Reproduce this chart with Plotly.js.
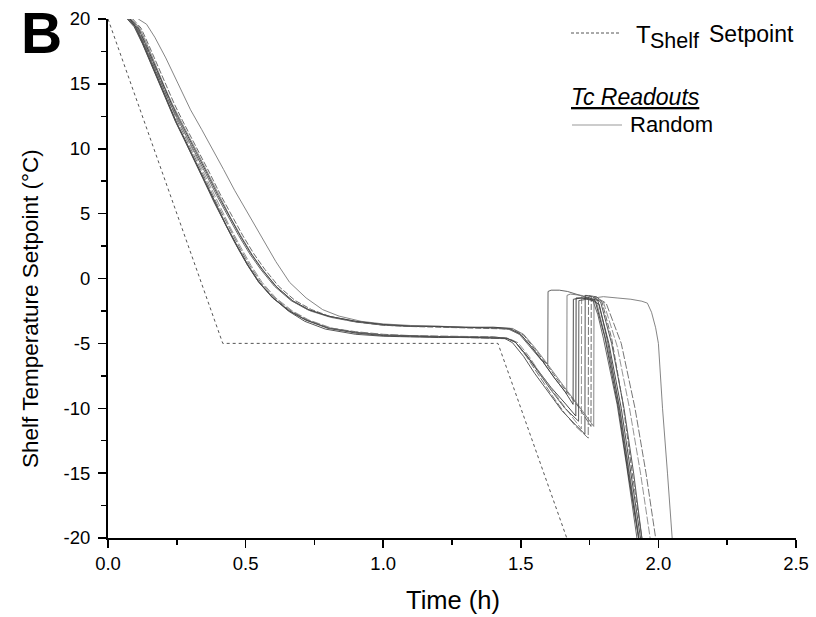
<!DOCTYPE html>
<html>
<head>
<meta charset="utf-8">
<script src="https://cdn.plot.ly/plotly-3.0.1.min.js"></script>
<style>html,body{margin:0;padding:0;background:#fff;}#chart{width:816px;height:617px;}</style>
</head>
<body>
<div id="chart"></div>
<script>
// ---- Shelf setpoint ----
const spTime = [0, 0.417, 1.417, 1.667];
const spTemp = [20, -5, -5, -20];

// ---- Thermocouple readouts (random vials) ----
const tc01Time = [0.078,0.105,0.135,0.165,0.195,0.225,0.255,0.285,0.315,0.355,0.395,0.435,0.475,0.515,0.555,0.605,0.665,0.725,0.80,0.90,1.00,1.10,1.20,1.30,1.40,1.455,1.495,1.535,1.575,1.598,1.599,1.61,1.64,1.67,1.70,1.73,1.762,1.78,1.80,1.85,1.885,1.922];
const tc01Temp = [20,19.3,17.9,16.4,14.9,13.5,12.2,11.0,9.8,8.1,6.4,4.8,3.3,1.9,0.7,-0.6,-1.7,-2.4,-2.9,-3.3,-3.55,-3.65,-3.72,-3.76,-3.8,-3.9,-4.3,-5.3,-6.3,-6.6,-1.0,-0.9,-0.9,-1.0,-1.2,-1.4,-1.7,-2.8,-4.6,-9.7,-14.5,-20];

const tc02Time = [0.085,0.115,0.145,0.175,0.205,0.235,0.265,0.295,0.325,0.365,0.405,0.445,0.485,0.525,0.565,0.615,0.675,0.735,0.81,0.90,1.00,1.10,1.20,1.30,1.40,1.46,1.50,1.54,1.58,1.62,1.667,1.668,1.68,1.72,1.75,1.775,1.81,1.86,1.895,1.93];
const tc02Temp = [20,19.3,17.9,16.3,14.8,13.4,12.1,10.9,9.7,8.0,6.3,4.7,3.2,1.8,0.6,-0.7,-1.8,-2.5,-3.0,-3.35,-3.6,-3.7,-3.68,-3.78,-3.82,-3.9,-4.35,-5.3,-6.4,-7.6,-8.9,-1.3,-1.2,-1.3,-1.5,-1.8,-4.8,-10.0,-15.0,-20];

const tc03Time = [0.075,0.10,0.13,0.16,0.19,0.22,0.25,0.28,0.31,0.35,0.39,0.43,0.47,0.51,0.55,0.60,0.66,0.72,0.80,0.90,1.00,1.10,1.20,1.30,1.40,1.45,1.48,1.52,1.56,1.61,1.66,1.70,1.701,1.72,1.75,1.77,1.805,1.855,1.89,1.928];
const tc03Temp = [20,19.4,18.0,16.5,14.9,13.4,12.0,10.7,9.4,7.6,5.8,4.1,2.5,1.0,-0.3,-1.5,-2.5,-3.2,-3.8,-4.15,-4.35,-4.42,-4.47,-4.5,-4.52,-4.6,-4.9,-5.9,-7.0,-8.4,-9.6,-10.6,-1.5,-1.5,-1.6,-1.7,-4.5,-10,-15,-20];

const tc04Time = [0.082,0.11,0.14,0.17,0.20,0.23,0.26,0.29,0.32,0.36,0.40,0.44,0.48,0.52,0.56,0.61,0.67,0.73,0.81,0.90,1.00,1.10,1.20,1.30,1.40,1.46,1.49,1.53,1.57,1.62,1.67,1.72,1.721,1.74,1.77,1.80,1.85,1.895,1.935,1.97];
const tc04Temp = [20,19.4,18.0,16.5,14.9,13.4,12.0,10.7,9.4,7.6,5.8,4.1,2.5,1.0,-0.3,-1.5,-2.5,-3.2,-3.8,-4.2,-4.4,-4.48,-4.5,-4.55,-4.58,-4.65,-4.95,-6.0,-7.3,-8.8,-10.2,-11.6,-1.4,-1.3,-1.5,-1.8,-5.2,-10,-15,-20];

const tc05Time = [0.07,0.095,0.125,0.155,0.185,0.215,0.245,0.275,0.305,0.345,0.385,0.425,0.465,0.505,0.545,0.595,0.655,0.715,0.79,0.90,1.00,1.10,1.20,1.30,1.40,1.44,1.47,1.51,1.55,1.60,1.65,1.70,1.733,1.734,1.76,1.79,1.83,1.875,1.91,1.94];
const tc05Temp = [20,19.4,18.1,16.6,15.0,13.5,12.1,10.8,9.5,7.7,5.9,4.2,2.6,1.1,-0.2,-1.4,-2.5,-3.3,-3.9,-4.3,-4.45,-4.5,-4.55,-4.52,-4.56,-4.6,-4.95,-6.0,-7.3,-8.8,-10.2,-11.3,-12.0,-1.3,-1.4,-1.8,-5.0,-10,-15,-20];

const tc06Time = [0.08,0.105,0.135,0.165,0.195,0.225,0.255,0.285,0.315,0.355,0.395,0.435,0.475,0.515,0.555,0.605,0.665,0.725,0.80,0.90,1.00,1.10,1.20,1.30,1.40,1.45,1.48,1.52,1.56,1.61,1.66,1.70,1.745,1.746,1.77,1.81,1.865,1.915,1.955,1.99];
const tc06Temp = [20,19.4,18.0,16.5,14.9,13.4,12.0,10.7,9.4,7.6,5.8,4.1,2.5,1.0,-0.3,-1.5,-2.5,-3.2,-3.8,-4.1,-4.3,-4.4,-4.45,-4.48,-4.5,-4.6,-4.9,-6.0,-7.3,-8.9,-10.4,-11.4,-12.3,-1.3,-1.4,-1.9,-5.0,-10,-15,-20];

const tc07Time = [0.11,0.14,0.17,0.21,0.255,0.30,0.34,0.38,0.42,0.46,0.51,0.56,0.61,0.66,0.72,0.78,0.84,0.92,1.00,1.10,1.20,1.30,1.40,1.47,1.51,1.55,1.59,1.63,1.67,1.71,1.74,1.765,1.766,1.80,1.85,1.90,1.94,1.96,1.975,1.99,2.00,2.015,2.033,2.05];
const tc07Temp = [20,19.6,18.6,17.0,15.0,13.0,11.5,10.0,8.4,6.8,5.0,3.2,1.3,-0.3,-1.5,-2.4,-2.9,-3.3,-3.5,-3.62,-3.7,-3.74,-3.78,-3.85,-4.3,-5.3,-6.4,-7.6,-8.7,-9.8,-10.7,-11.4,-1.5,-1.4,-1.5,-1.6,-1.75,-1.9,-2.6,-3.8,-5.0,-10,-15,-20];

const tc08Time = [0.08,0.11,0.14,0.17,0.20,0.23,0.26,0.29,0.32,0.36,0.40,0.44,0.48,0.52,0.56,0.61,0.67,0.73,0.80,0.90,1.00,1.10,1.20,1.30,1.40,1.46,1.50,1.54,1.58,1.62,1.66,1.69,1.691,1.72,1.75,1.78,1.82,1.865,1.90,1.935];
const tc08Temp = [20,19.3,17.9,16.4,14.9,13.5,12.2,11.0,9.8,8.1,6.4,4.8,3.3,1.9,0.7,-0.6,-1.7,-2.4,-2.9,-3.3,-3.55,-3.68,-3.7,-3.78,-3.75,-3.85,-4.3,-5.3,-6.4,-7.6,-8.7,-9.7,-1.6,-1.5,-1.5,-1.7,-5.0,-10,-15,-20];

const tc09Time = [0.09,0.12,0.15,0.18,0.21,0.24,0.27,0.30,0.33,0.37,0.41,0.45,0.49,0.53,0.57,0.62,0.68,0.74,0.81,0.90,1.00,1.10,1.20,1.30,1.40,1.47,1.51,1.55,1.59,1.63,1.67,1.71,1.755,1.756,1.775,1.795,1.83,1.87,1.905,1.94];
const tc09Temp = [20,19.3,17.9,16.4,14.9,13.5,12.2,11.0,9.8,8.1,6.4,4.8,3.3,1.9,0.7,-0.6,-1.7,-2.4,-2.95,-3.35,-3.6,-3.7,-3.74,-3.8,-3.82,-3.9,-4.35,-5.4,-6.5,-7.7,-8.8,-9.9,-11.4,-1.4,-1.4,-1.8,-4.6,-9.5,-15,-20];

const tc10Time = [0.072,0.098,0.128,0.158,0.188,0.218,0.248,0.278,0.308,0.348,0.388,0.428,0.468,0.508,0.548,0.598,0.658,0.718,0.80,0.90,1.00,1.10,1.20,1.30,1.40,1.45,1.48,1.52,1.56,1.61,1.66,1.71,1.711,1.74,1.76,1.785,1.815,1.86,1.893,1.928];
const tc10Temp = [20,19.4,18.0,16.5,14.9,13.4,12.0,10.7,9.4,7.6,5.8,4.1,2.5,1.0,-0.3,-1.5,-2.5,-3.2,-3.85,-4.2,-4.4,-4.45,-4.5,-4.5,-4.55,-4.62,-4.9,-5.9,-7.1,-8.6,-10.0,-11.0,-1.7,-1.6,-1.7,-2.0,-4.8,-10.2,-15,-20];

const xTickVals = [0, 0.5, 1.0, 1.5, 2.0, 2.5];
const xTickText = ['0.0', '0.5', '1.0', '1.5', '2.0', '2.5'];
const yTickVals = [-20, -15, -10, -5, 0, 5, 10, 15, 20];
const yTickText = ['-20', '-15', '-10', '-5', '0', '5', '10', '15', '20'];

const tcSeries = [
  [tc01Time, tc01Temp], [tc02Time, tc02Temp], [tc03Time, tc03Temp], [tc04Time, tc04Temp],
  [tc05Time, tc05Temp], [tc06Time, tc06Temp], [tc07Time, tc07Temp], [tc08Time, tc08Temp],
  [tc09Time, tc09Temp], [tc10Time, tc10Temp]
];
const tcColors = ['#555','#777','#333','#888','#444','#666','#777','#3a3a3a','#5a5a5a','#4a4a4a'];
const tcDash = ['solid','solid','solid','8px,2px','solid','8px,2px','solid','solid','6px,2px','solid'];

const FONT = 'Arial, "Liberation Sans", sans-serif';

const traces = [{
  x: spTime, y: spTemp, type: 'scatter', mode: 'lines',
  line: {color: '#555', width: 1, dash: '3px,3px'}, hoverinfo: 'skip', showlegend: false
}];
tcSeries.forEach((s, i) => {
  traces.push({
    x: s[0], y: s[1], type: 'scatter', mode: 'lines',
    line: {color: tcColors[i], width: 0.9, dash: tcDash[i]},
    hoverinfo: 'skip', showlegend: false
  });
});

const px = v => (v - 108) / 688;
const py = v => (538 - v) / 519;

const layout = {
  width: 816, height: 617,
  margin: {l: 108, r: 20, t: 19, b: 79},
  paper_bgcolor: '#fff', plot_bgcolor: '#fff',
  font: {family: FONT, color: '#000'},
  showlegend: false,
  xaxis: {
    range: [0, 2.5], tickvals: xTickVals, ticktext: xTickText,
    ticks: 'outside', ticklen: 8, tickwidth: 1.5, tickcolor: '#000',
    showline: true, linewidth: 2, linecolor: '#000',
    showgrid: false, zeroline: false,
    tickfont: {size: 18.5, family: FONT, color: '#000'},
    minor: {ticks: 'outside', ticklen: 5, tickwidth: 1.5, tickcolor: '#000', dtick: 0.25, showgrid: false},
    automargin: false
  },
  yaxis: {
    range: [-20, 20], tickvals: yTickVals, ticktext: yTickText,
    ticks: 'outside', ticklen: 8, tickwidth: 1.5, tickcolor: '#000',
    showline: true, linewidth: 2, linecolor: '#000',
    showgrid: false, zeroline: false, ticklabelstandoff: 4,
    tickfont: {size: 18.5, family: FONT, color: '#000'},
    minor: {ticks: 'outside', ticklen: 5, tickwidth: 1.5, tickcolor: '#000', dtick: 2.5, showgrid: false},
    automargin: false
  },
  shapes: [
    {type: 'line', xref: 'paper', yref: 'paper', x0: px(571), x1: px(621), y0: py(33), y1: py(33),
     line: {color: '#555', width: 1, dash: '3px,2px'}},
    {type: 'line', xref: 'paper', yref: 'paper', x0: px(572), x1: px(622), y0: py(125), y1: py(125),
     line: {color: '#999', width: 1}}
  ],
  annotations: [
    {text: '<b>B</b>', xref: 'paper', yref: 'paper', x: px(19), y: py(33), xanchor: 'left', yanchor: 'middle',
     showarrow: false, font: {size: 57, family: FONT, color: '#000'}},
    {text: 'T', xref: 'paper', yref: 'paper', x: px(634), y: py(34), xanchor: 'left', yanchor: 'middle',
     showarrow: false, font: {size: 24, family: FONT, color: '#000'}},
    {text: 'Shelf', xref: 'paper', yref: 'paper', x: px(648), y: py(41), xanchor: 'left', yanchor: 'middle',
     showarrow: false, font: {size: 21.5, family: FONT, color: '#000'}},
    {text: 'Setpoint', xref: 'paper', yref: 'paper', x: px(707), y: py(34), xanchor: 'left', yanchor: 'middle',
     showarrow: false, font: {size: 23, family: FONT, color: '#000'}},
    {text: '<i><u>Tc Readouts</u></i>', xref: 'paper', yref: 'paper', x: px(569), y: py(97), xanchor: 'left', yanchor: 'middle',
     showarrow: false, font: {size: 23, family: FONT, color: '#000'}},
    {text: 'Random', xref: 'paper', yref: 'paper', x: px(628), y: py(125), xanchor: 'left', yanchor: 'middle',
     showarrow: false, font: {size: 22, family: FONT, color: '#000'}},
    {text: 'Time (h)', xref: 'paper', yref: 'paper', x: px(453), y: py(600), xanchor: 'center', yanchor: 'middle',
     showarrow: false, font: {size: 25.5, family: FONT, color: '#000'}},
    {text: 'Shelf Temperature Setpoint (°C)', xref: 'paper', yref: 'paper', x: px(30), y: py(309), xanchor: 'center', yanchor: 'middle',
     textangle: -90, showarrow: false, font: {size: 22.5, family: FONT, color: '#000'}}
  ]
};

Plotly.newPlot('chart', traces, layout, {staticPlot: true, displayModeBar: false});
</script>
</body>
</html>
